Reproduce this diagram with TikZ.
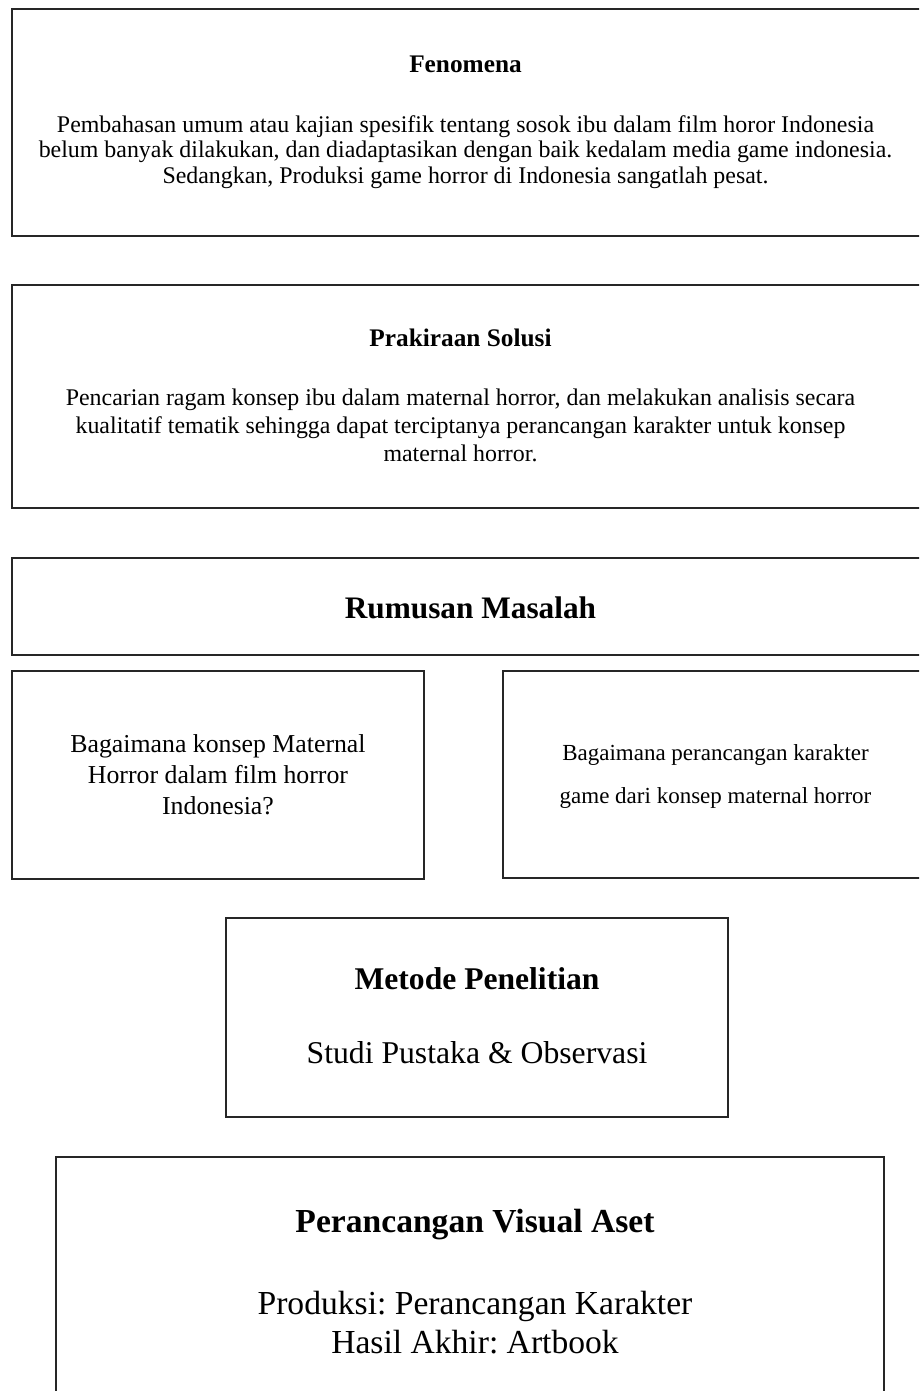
\documentclass[tikz,border=0pt]{standalone}
\usepackage{fontspec}
\setmainfont{Liberation Serif}
\begin{document}
\frenchspacing
\begin{tikzpicture}[x=1pt,y=-1pt,
  boxline/.style={draw=black!85,line width=1.2pt},
  txt/.style={anchor=base,inner sep=0pt},
  bodyA/.style={txt,font=\fontsize{23.9}{26}\selectfont},
  titleA/.style={txt,font=\fontsize{25.3}{28}\selectfont\bfseries}]
\useasboundingbox (0,0) rectangle (919,1391);
\clip (0,0) rectangle (919,1391);
% boxes
\path[boxline] (12,9) rectangle (940,236);
\path[boxline] (12,285) rectangle (940,508);
\path[boxline] (12,558) rectangle (940,655);
\path[boxline] (12,671) rectangle (424,879);
\path[boxline] (503,671) rectangle (940,878);
\path[boxline] (226,918) rectangle (728,1117);
\path[boxline] (56,1157) rectangle (884,1420);
% texts
\node[titleA] (fenT) at (465.5,73) {Fenomena};
\node[bodyA] (fen1) at (465.5,133) {Pembahasan umum atau kajian spesifik tentang sosok ibu dalam film horor Indonesia};
\node[bodyA] (fen2) at (465.5,158) {belum banyak dilakukan, dan diadaptasikan dengan baik kedalam media game indonesia.};
\node[bodyA] (fen3) at (465.5,183) {Sedangkan, Produksi game horror di Indonesia sangatlah pesat.};
\node[titleA] (solT) at (460.5,346) {Prakiraan Solusi};
\node[bodyA] (sol1) at (460.5,405) {Pencarian ragam konsep ibu dalam maternal horror, dan melakukan analisis secara};
\node[bodyA] (sol2) at (460.5,433) {kualitatif tematik sehingga dapat terciptanya perancangan karakter untuk konsep};
\node[bodyA] (sol3) at (460.5,461) {maternal horror.};
\node[txt,font=\fontsize{31.3}{35}\selectfont\bfseries] (rumT) at (470.5,618) {Rumusan Masalah};
\node[txt,font=\fontsize{25.8}{29}\selectfont] (q1a) at (218,752) {Bagaimana konsep Maternal};
\node[txt,font=\fontsize{25.8}{29}\selectfont] (q1b) at (218,783) {Horror dalam film horror};
\node[txt,font=\fontsize{25.8}{29}\selectfont] (q1c) at (218,814) {Indonesia?};
\node[txt,font=\fontsize{23}{26}\selectfont] (q2a) at (715.5,760) {Bagaimana perancangan karakter};
\node[txt,font=\fontsize{23}{26}\selectfont] (q2b) at (715.5,803) {game dari konsep maternal horror};
\node[txt,font=\fontsize{31.6}{35}\selectfont\bfseries] (metT) at (477,989) {Metode Penelitian};
\node[txt,font=\fontsize{31.7}{35}\selectfont] (met1) at (477,1063) {Studi Pustaka \& Observasi};
\node[txt,font=\fontsize{33.6}{37}\selectfont\bfseries] (perT) at (475,1232) {Perancangan Visual Aset};
\node[txt,font=\fontsize{33.6}{37}\selectfont] (per1) at (475,1314) {Produksi: Perancangan Karakter};
\node[txt,font=\fontsize{33.6}{37}\selectfont] (per2) at (475,1353) {Hasil Akhir: Artbook};
\end{tikzpicture}
\end{document}
